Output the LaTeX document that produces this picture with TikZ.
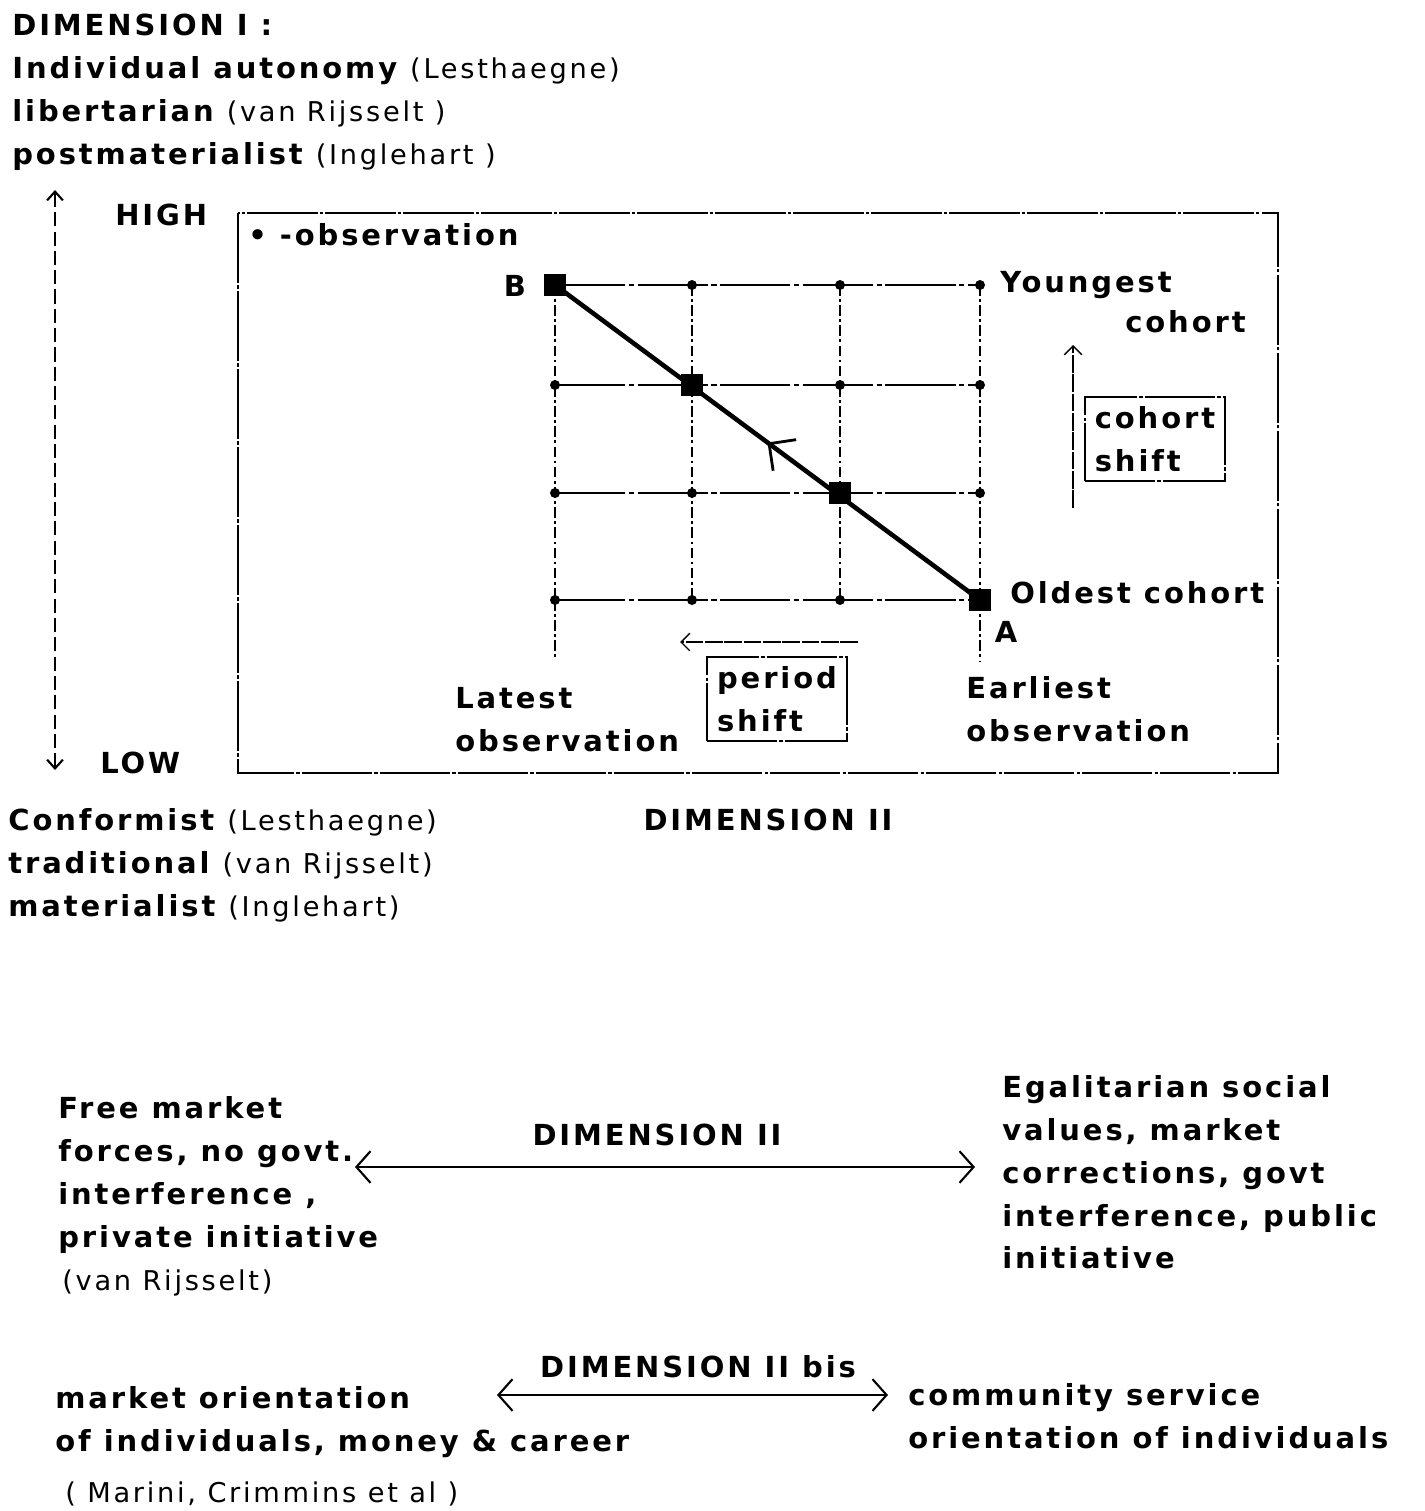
\documentclass[tikz,border=0pt]{standalone}
\usepackage{fontspec}
\newfontfamily\lblfont[LetterSpace=10]{DejaVu Sans}
\usetikzlibrary{arrows.meta,decorations.markings}
\newcommand{\citeby}[1]{{\mdseries\fontsize{15.5}{24.4}\selectfont #1}}

\begin{document}
\begin{tikzpicture}[x=0.02cm, y=-0.02cm,
    txt/.style={inner sep=0, align=left, font=\lblfont\bfseries\fontsize{16.5}{24.4}\selectfont},
    cit/.style={inner sep=0, font=\lblfont\fontsize{15.5}{24.4}\selectfont},
    dot/.style={circle, fill, inner sep=0, minimum size=0.2cm},
    obs/.style={rectangle, fill, inner sep=0, minimum size=0.44cm},
    frame/.style={line width=1.1pt, dash pattern=on 40pt off 1.2pt on 2pt off 1.2pt},
    gridh/.style={line width=0.9pt, dash pattern=on 40pt off 2pt on 3pt off 2pt},
    gridv/.style={line width=0.8pt, dash pattern=on 6pt off 2pt on 1.5pt off 2pt},
    axis/.style={line width=0.6pt, dash pattern=on 8pt off 3pt, {Straight Barb[length=5pt,width=9pt,line width=1.2pt]}-{Straight Barb[length=5pt,width=9pt,line width=1.2pt]}},
    shiftarr/.style={line width=0.8pt, dash pattern=on 10pt off 1pt, -{Straight Barb[length=5pt,width=10pt]}},
    shiftbox/.style={txt, draw, frame, line width=0.9pt, minimum width=2.8cm, minimum height=1.68cm},
    dimarr/.style={line width=1.2pt, {Straight Barb[length=8pt,width=18pt]}-{Straight Barb[length=8pt,width=18pt]}}]
    \useasboundingbox (0,0) rectangle (1424,1511);

    % dimension I, upper and lower end
    \node[txt, anchor=north west] (dim1) at (12,14) {DIMENSION I :\\
        Individual autonomy \citeby{(Lesthaegne)}\\
        libertarian \citeby{(van Rijsselt )}\\
        postmaterialist \citeby{(Inglehart )}};
    \node[txt, anchor=north west] (dim1low) at (8,808) {Conformist \citeby{(Lesthaegne)}\\
        traditional \citeby{(van Rijsselt)}\\
        materialist \citeby{(Inglehart)}};

    \coordinate (axtop) at (55,190);
    \coordinate (axbot) at (55,770);
    \draw[axis] (axbot) -- (axtop);
    \node[txt, anchor=base west] (high) at (115,225) {HIGH};
    \node[txt, anchor=base west] (low)  at (100,773) {LOW};

    \draw[frame] (238,213) rectangle (1278,773);
    \node[txt, anchor=base west] (legend) at (248,245) {• -observation};

    % cohort x period grid
    \foreach \c/\x in {1/555,2/692,3/840,4/980}
        \foreach \r/\y in {1/285,2/385,3/493,4/600}
            \coordinate (g\c\r) at (\x,\y);
    \foreach \r in {1,...,4}
        \draw[gridh] (g1\r) -- (g4\r);
    \foreach \c in {1,...,4}
        \draw[gridv] (g\c1) -- (g\c4);
    \foreach \c in {1,...,4}
        \foreach \r in {1,...,4}
            \node[dot] (d\c\r) at (g\c\r) {};

    \draw[line width=2.6pt, postaction={decorate, decoration={markings,
        mark=at position 0.5 with {\arrow[line width=1.6pt]{Straight Barb[length=11pt,width=22pt]}}}}]
        (g44) -- (g11);
    \node[obs] (B)  at (g11) {};
    \node[obs] (o2) at (g22) {};
    \node[obs] (o3) at (g33) {};
    \node[obs] (A)  at (g44) {};
    \node[txt] (Blbl) at (515,286) {B};
    \node[txt] (Albl) at (1006,632) {A};

    \coordinate (latend) at (555,660);
    \coordinate (earend) at (980,662);
    \draw[gridv] (g14) -- (latend);
    \draw[gridv] (g44) -- (earend);

    \node[txt, anchor=base west] (young)  at (1000,292) {Youngest};
    \node[txt, anchor=base west] (youngc) at (1125,332) {cohort};
    \node[txt, anchor=base west] (old)    at (1010,603) {Oldest cohort};
    \node[txt, anchor=north west] (latest)   at (455,687) {Latest\\observation};
    \node[txt, anchor=north west] (earliest) at (966,676) {Earliest\\observation};

    % shifts
    \coordinate (ps1) at (858,642);
    \coordinate (ps2) at (680,642);
    \draw[shiftarr] (ps1) -- (ps2);
    \node[shiftbox] (pbox) at (777,699) {period\\shift};
    \coordinate (cs1) at (1073,508);
    \coordinate (cs2) at (1073,345);
    \draw[shiftarr] (cs1) -- (cs2);
    \node[shiftbox] (cbox) at (1155,439) {cohort\\shift};

    \node[txt, anchor=base] (dim2) at (768,830) {DIMENSION II};

    % dimension II
    \node[txt, anchor=north west] (free) at (58,1096) {Free market\\
        forces, no govt.\\
        interference ,\\
        private initiative};
    \node[cit, anchor=base west] (freeref) at (62,1290) {(van Rijsselt)};
    \node[txt, anchor=north west] (egal) at (1002,1075) {Egalitarian social\\
        values, market\\
        corrections, govt\\
        interference, public\\
        initiative};
    \node[txt, anchor=base] (dim2b) at (657,1145) {DIMENSION II};
    \coordinate (d2l) at (355,1167);
    \coordinate (d2r) at (975,1167);
    \draw[dimarr] (d2l) -- (d2r);

    % dimension II bis
    \node[txt, anchor=base] (dim2bis) at (698,1377) {DIMENSION II bis};
    \coordinate (d2bl) at (497,1395);
    \coordinate (d2br) at (888,1395);
    \draw[dimarr] (d2bl) -- (d2br);
    \node[txt, anchor=north west] (market) at (55,1386) {market orientation\\
        of individuals, money \& career};
    \node[cit, anchor=base west] (marketref) at (65,1502) {( Marini, Crimmins et al )};
    \node[txt, anchor=north west] (commun) at (908,1383) {community service\\
        orientation of individuals};
\end{tikzpicture}
\end{document}
